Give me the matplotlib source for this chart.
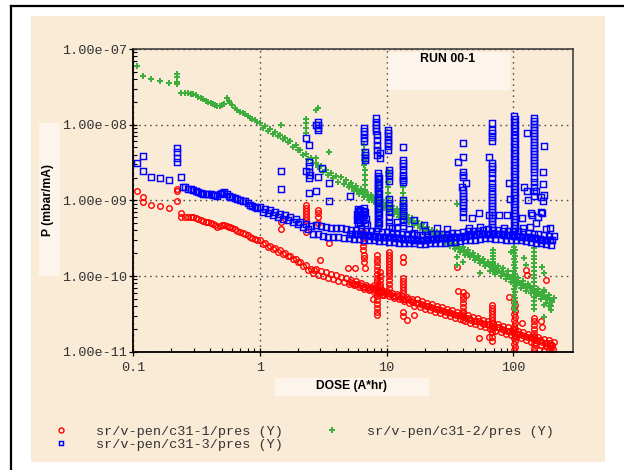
import numpy as np
import matplotlib
matplotlib.use("Agg")
import matplotlib.pyplot as plt
from matplotlib.patches import Rectangle
from matplotlib.lines import Line2D
from matplotlib.ticker import LogLocator, FuncFormatter, NullFormatter

BEIGE = '#FAEBD7'
PALE = '#FDF5EC'
RED = '#FF0000'
BLUE = '#0000FF'
GREEN = '#3DAE3D'
MONO = 'Liberation Mono'
SANS = 'Liberation Sans'

# dose in A*hr, pressures as log10(P / (mbar/mA))
dose_start = [0.106, 0.12, 0.139, 0.163, 0.192, 0.222, 0.239, 0.255, 0.271, 0.285,
              0.297, 0.31, 0.325, 0.34, 0.356, 0.373, 0.39, 0.408, 0.427, 0.443,
              0.459, 0.48, 0.502, 0.525, 0.55, 0.565, 0.58, 0.607, 0.636, 0.665,
              0.697, 0.73, 0.762, 0.8, 0.834, 0.87, 0.914, 0.955]
red_start = [-8.87, -8.95, -9.06, -9.07, -9.10, -8.85, -9.17, -9.22, -9.22, -9.22,
             -9.22, -9.23, -9.24, -9.26, -9.27, -9.28, -9.28, -9.30, -9.31, -9.32,
             -9.35, -9.34, -9.32, -9.32, -9.34, -9.35, -9.35, -9.36, -9.38, -9.40,
             -9.42, -9.43, -9.44, -9.46, -9.48, -9.50, -9.51, -9.53]
blue_start = [-8.50, -8.41, -8.69, -8.70, -8.73, -8.31, -8.69, -8.83, -8.85, -8.85,
              -8.86, -8.87, -8.89, -8.90, -8.91, -8.91, -8.91, -8.91, -8.93, -8.93,
              -8.94, -8.91, -8.90, -8.89, -8.91, -8.94, -8.95, -8.95, -8.97, -8.98,
              -8.99, -9.01, -9.01, -9.03, -9.06, -9.07, -9.09, -9.10]
green_start = [-7.22, -7.36, -7.40, -7.42, -7.45, -7.33, -7.58, -7.58, -7.58, -7.59,
               -7.59, -7.61, -7.63, -7.65, -7.66, -7.69, -7.70, -7.71, -7.73, -7.74,
               -7.75, -7.75, -7.74, -7.73, -7.65, -7.69, -7.71, -7.74, -7.78, -7.81,
               -7.83, -7.84, -7.86, -7.88, -7.91, -7.92, -7.94, -7.96]

dose = [1.0, 1.05, 1.1, 1.15, 1.2, 1.26, 1.32, 1.38, 1.45, 1.51,
        1.58, 1.66, 1.74, 1.82, 1.91, 2.0, 2.09, 2.19, 2.29, 2.4,
        2.51, 2.63, 2.75, 2.88, 3.02, 3.16, 3.31, 3.47, 3.63, 3.8,
        3.98, 4.17, 4.37, 4.57, 4.79, 5.01, 5.25, 5.5, 5.75, 6.03,
        6.31, 6.61, 6.92, 7.24, 7.59, 7.94, 8.32, 8.71, 9.12, 9.55,
        10.0, 10.5, 11.0, 11.5, 12.0, 12.6, 13.2, 13.8, 14.5, 15.1,
        15.8, 16.6, 17.4, 18.2, 19.1, 20.0, 20.9, 21.9, 22.9, 24.0,
        25.1, 26.3, 27.5, 28.8, 30.2, 31.6, 33.1, 34.7, 36.3, 38.0,
        39.8, 41.7, 43.7, 45.7, 47.9, 50.1, 52.5, 55.0, 57.5, 60.3,
        63.1, 66.1, 69.2, 72.4, 75.9, 79.4, 83.2, 87.1, 91.2, 95.5,
        100, 105, 110, 115, 120, 126, 132, 138, 145, 151,
        158, 166, 174, 182, 191, 200, 209]
red_log_p = [-9.53, -9.58, -9.56, -9.61, -9.60, -9.64, -9.63, -9.68, -9.66, -9.71,
             -9.69, -9.74, -9.73, -9.77, -9.77, -9.82, -9.81, -9.87, -9.86, -9.92,
             -9.91, -9.96, -9.91, -9.98, -9.93, -10.00, -9.95, -10.02, -9.97, -10.04,
             -9.99, -10.06, -10.01, -10.08, -10.03, -10.10, -10.05, -10.12, -10.07, -10.14,
             -10.09, -10.17, -10.12, -10.19, -10.14, -10.21, -10.16, -10.23, -10.18, -10.25,
             -10.20, -10.27, -10.22, -10.29, -10.24, -10.31, -10.26, -10.33, -10.28, -10.35,
             -10.30, -10.39, -10.31, -10.41, -10.33, -10.43, -10.35, -10.45, -10.37, -10.47,
             -10.39, -10.49, -10.41, -10.51, -10.43, -10.53, -10.45, -10.55, -10.47, -10.57,
             -10.49, -10.60, -10.52, -10.62, -10.54, -10.64, -10.56, -10.66, -10.58, -10.68,
             -10.60, -10.70, -10.62, -10.72, -10.64, -10.74, -10.66, -10.76, -10.68, -10.78,
             -10.70, -10.80, -10.72, -10.82, -10.74, -10.84, -10.76, -10.87, -10.79, -10.89,
             -10.81, -10.91, -10.83, -10.93, -10.85, -10.95, -10.87]
blue_log_p = [-9.09, -9.15, -9.11, -9.17, -9.13, -9.19, -9.15, -9.22, -9.18, -9.24,
              -9.20, -9.26, -9.22, -9.28, -9.25, -9.31, -9.28, -9.35, -9.31, -9.38,
              -9.34, -9.44, -9.32, -9.45, -9.34, -9.47, -9.35, -9.48, -9.36, -9.49,
              -9.37, -9.49, -9.37, -9.50, -9.38, -9.50, -9.39, -9.51, -9.39, -9.51,
              -9.40, -9.52, -9.40, -9.53, -9.41, -9.53, -9.41, -9.54, -9.42, -9.54,
              -9.42, -9.55, -9.43, -9.55, -9.44, -9.56, -9.44, -9.56, -9.45, -9.57,
              -9.45, -9.57, -9.46, -9.58, -9.46, -9.58, -9.46, -9.57, -9.45, -9.57,
              -9.45, -9.56, -9.44, -9.56, -9.44, -9.55, -9.43, -9.55, -9.43, -9.54,
              -9.42, -9.53, -9.41, -9.53, -9.40, -9.52, -9.40, -9.51, -9.39, -9.50,
              -9.38, -9.50, -9.39, -9.51, -9.39, -9.51, -9.40, -9.52, -9.40, -9.52,
              -9.41, -9.53, -9.41, -9.53, -9.42, -9.54, -9.43, -9.55, -9.44, -9.56,
              -9.45, -9.57, -9.46, -9.58, -9.47, -9.59, -9.47]
green_log_p = [-7.98, -8.04, -8.02, -8.08, -8.06, -8.12, -8.10, -8.15, -8.13, -8.19,
               -8.17, -8.23, -8.22, -8.29, -8.27, -8.34, -8.33, -8.40, -8.39, -8.45,
               -8.44, -8.51, -8.50, -8.56, -8.55, -8.62, -8.60, -8.66, -8.64, -8.70,
               -8.68, -8.76, -8.69, -8.79, -8.73, -8.83, -8.77, -8.87, -8.81, -8.91,
               -8.85, -8.95, -8.89, -8.99, -8.93, -9.02, -8.96, -9.06, -9.00, -9.10,
               -9.04, -9.14, -9.08, -9.18, -9.12, -9.22, -9.16, -9.25, -9.19, -9.29,
               -9.23, -9.33, -9.27, -9.37, -9.31, -9.41, -9.35, -9.45, -9.39, -9.49,
               -9.42, -9.52, -9.46, -9.56, -9.50, -9.60, -9.54, -9.64, -9.58, -9.68,
               -9.62, -9.72, -9.65, -9.75, -9.69, -9.79, -9.73, -9.83, -9.77, -9.87,
               -9.81, -9.93, -9.83, -9.97, -9.87, -10.00, -9.90, -10.04, -9.94, -10.08,
               -9.98, -10.12, -10.02, -10.16, -10.06, -10.20, -10.10, -10.23, -10.13, -10.27,
               -10.17, -10.31, -10.21, -10.35, -10.25, -10.39, -10.29]

# readings taken between the ones above, from 5 A*hr on
dose_mid = [5.13, 5.37, 5.62, 5.89, 6.17, 6.46, 6.76, 7.08, 7.41, 7.76,
            8.13, 8.51, 8.91, 9.33, 9.77, 10.2, 10.7, 11.2, 11.7, 12.3,
            12.9, 13.5, 14.1, 14.8, 15.5, 16.2, 17.0, 17.8, 18.6, 19.5,
            20.4, 21.4, 22.4, 23.4, 24.5, 25.7, 26.9, 28.2, 29.5, 30.9,
            32.4, 33.9, 35.5, 37.2, 38.9, 40.7, 42.7, 44.7, 46.8, 49.0,
            51.3, 53.7, 56.2, 58.9, 61.7, 64.6, 67.6, 70.8, 74.1, 77.6,
            81.3, 85.1, 89.1, 93.3, 97.7, 102, 107, 112, 117, 123,
            129, 135, 141, 148, 155, 162, 170, 178, 186, 195, 204]
red_mid = [-10.08, -10.09, -10.11, -10.11, -10.12, -10.14, -10.14, -10.15, -10.17, -10.17,
           -10.18, -10.20, -10.20, -10.21, -10.23, -10.23, -10.24, -10.26, -10.26, -10.27,
           -10.29, -10.30, -10.31, -10.31, -10.33, -10.34, -10.35, -10.35, -10.37, -10.38,
           -10.39, -10.39, -10.41, -10.42, -10.43, -10.43, -10.45, -10.46, -10.47, -10.47,
           -10.49, -10.50, -10.51, -10.51, -10.53, -10.54, -10.55, -10.56, -10.58, -10.59,
           -10.60, -10.60, -10.62, -10.63, -10.64, -10.64, -10.66, -10.67, -10.68, -10.68,
           -10.70, -10.71, -10.72, -10.72, -10.74, -10.75, -10.76, -10.76, -10.78, -10.79,
           -10.80, -10.80, -10.82, -10.84, -10.85, -10.85, -10.87, -10.88, -10.89, -10.89,
           -10.91]
blue_mid = [-9.44, -9.44, -9.45, -9.45, -9.45, -9.46, -9.46, -9.46, -9.47, -9.47,
            -9.47, -9.48, -9.48, -9.48, -9.48, -9.49, -9.49, -9.49, -9.50, -9.50,
            -9.50, -9.51, -9.51, -9.51, -9.51, -9.52, -9.52, -9.52, -9.52, -9.52,
            -9.52, -9.51, -9.51, -9.51, -9.51, -9.50, -9.50, -9.50, -9.50, -9.49,
            -9.49, -9.49, -9.49, -9.48, -9.48, -9.47, -9.47, -9.46, -9.46, -9.46,
            -9.45, -9.45, -9.45, -9.44, -9.44, -9.44, -9.44, -9.45, -9.45, -9.45,
            -9.45, -9.46, -9.46, -9.46, -9.46, -9.47, -9.47, -9.47, -9.48, -9.48,
            -9.49, -9.49, -9.50, -9.50, -9.51, -9.51, -9.52, -9.52, -9.53, -9.53,
            -9.53]
green_mid = [-8.80, -8.82, -8.84, -8.86, -8.88, -8.90, -8.92, -8.94, -8.96, -8.97,
             -8.99, -9.01, -9.03, -9.05, -9.07, -9.09, -9.11, -9.13, -9.15, -9.17,
             -9.19, -9.20, -9.22, -9.24, -9.26, -9.28, -9.30, -9.32, -9.34, -9.36,
             -9.38, -9.40, -9.42, -9.44, -9.45, -9.47, -9.49, -9.51, -9.53, -9.55,
             -9.57, -9.59, -9.61, -9.63, -9.65, -9.67, -9.68, -9.70, -9.72, -9.74,
             -9.76, -9.78, -9.80, -9.82, -9.84, -9.86, -9.88, -9.90, -9.92, -9.93,
             -9.95, -9.97, -9.99, -10.01, -10.03, -10.05, -10.07, -10.09, -10.11, -10.13,
             -10.15, -10.16, -10.18, -10.20, -10.22, -10.24, -10.26, -10.28, -10.30, -10.32,
             -10.34]

# pressure bursts: (dose, [log10 P readings])
red_spikes = [
    (0.12, [-9.02]), (0.222, [-8.87, -9.01]), (0.239, [-9.22]),
    (1.46, [-9.28, -9.38]),
    (2.33, [-9.06, -9.10, -9.14, -9.18, -9.22, -9.26, -9.42]),
    (2.66, [-9.92]), (2.9, [-9.13, -9.17, -9.22, -9.30]), (2.97, [-9.79]),
    (3.5, [-9.56]), (5.0, [-9.89]), (5.6, [-9.90]),
    (6.5, [-9.42, -9.46, -9.50, -9.55, -9.60, -9.65]), (6.6, [-9.72, -9.76, -9.81]), (6.7, [-9.89]),
    (7.8, [-10.30]), (8.0, [-10.12]),
    (8.4, [-9.72, -9.77, -9.82, -9.87, -9.92, -9.97, -10.02, -10.07, -10.12, -10.17,
           -10.22, -10.27, -10.32, -10.37, -10.42, -10.47, -10.52]),
    (8.8, [-9.95, -10.00, -10.05, -10.10, -10.15, -10.20]), (9.2, [-10.25]),
    (10.4, [-9.68, -9.72, -9.76, -9.80, -9.84, -9.88, -9.92, -9.96, -10.00, -10.05, -10.10, -10.16]),
    (13.6, [-9.75, -9.81, -10.02, -10.06, -10.10, -10.14, -10.18, -10.22, -10.48, -10.53]),
    (14.4, [-10.58]), (16.6, [-10.51]),
    (36.2, [-9.88]), (36.9, [-10.20]),
    (40.4, [-10.21, -10.26, -10.31, -10.36, -10.41, -10.46, -10.52, -10.58]), (42.5, [-10.25]),
    (54, [-10.82]), (64.7, [-10.80]),
    (68.4, [-10.38, -10.42, -10.46, -10.50, -10.54, -10.58, -10.62, -10.66, -10.70, -10.74, -10.80, -10.86]),
    (93, [-10.28]),
    (101, [-10.34, -10.42, -10.50, -10.58, -10.66, -10.74, -10.82, -10.90, -10.98]),
    (104, [-10.38, -10.46, -10.54, -10.62, -10.70, -10.78, -10.86, -10.94]),
    (118, [-10.62]), (126, [-9.92]), (129, [-9.98]),
    (146, [-10.55, -10.60, -10.65, -10.70, -10.75, -10.80, -10.85, -10.90, -10.95, -10.99]),
    (160, [-10.98]), (166, [-10.60]), (169, [-10.67]), (175, [-10.99]), (182, [-10.05]),
    (185, [-10.93]), (190, [-10.97]), (200, [-10.92]), (205, [-10.96]),
]
green_spikes = [
    (0.222, [-7.37, -7.44, -7.46]),
    (1.46, [-8.00]),
    (2.3, [-7.92, -7.98, -8.04, -8.11]),
    (2.76, [-7.81, -8.44]), (2.86, [-7.78]), (3.5, [-8.36]),
    (6.6, [-8.27, -8.33, -8.40, -8.47, -8.53]), (6.7, [-8.60, -8.66, -8.73, -8.80, -8.86, -8.93]),
    (8.6, [-8.73, -8.80, -8.86, -8.93, -8.99, -9.06, -9.13, -9.19, -9.26, -9.32]),
    (10.3, [-8.62, -8.68, -8.76, -8.83, -8.90, -8.97, -9.04]),
    (13.4, [-8.83, -8.90, -8.97, -9.04, -9.11, -9.17]),
    (36.2, [-9.05, -9.75, -9.85]), (40.4, [-9.81]), (55, [-9.96]),
    (69.7, [-9.65, -9.69, -9.73, -9.77, -9.81, -9.85, -9.89, -9.93]),
    (96, [-9.68]),
    (102, [-9.61, -9.69, -9.77, -9.85, -9.93, -10.01, -10.09, -10.17, -10.25, -10.33, -10.41]),
    (104, [-9.65, -9.73, -9.81, -9.89, -9.97, -10.05, -10.13, -10.21, -10.29, -10.37, -10.45]),
    (122, [-9.76]), (126, [-9.85]), (169, [-9.88]),
    (146, [-9.63, -9.68, -9.73, -9.78, -9.83, -9.88, -9.93, -9.98, -10.03, -10.08,
           -10.13, -10.18, -10.23, -10.28, -10.33, -10.38, -10.43]),
    (175, [-9.96, -10.18, -10.38, -10.54]), (190, [-10.40]), (200, [-10.45]),
]
blue_spikes = [
    (0.12, [-8.61]), (0.222, [-8.36, -8.44, -8.49]), (0.245, [-8.83]),
    (1.46, [-8.61, -8.85]),
    (2.30, [-8.17]), (2.33, [-8.61]), (2.43, [-8.27, -8.49, -8.55, -8.62, -8.70, -8.90]), (2.48, [-8.66]),
    (2.76, [-8.00, -8.88]), (2.86, [-7.96, -8.00, -8.04, -8.07, -8.69]), (3.08, [-8.57]),
    (3.49, [-8.77, -9.01]), (5.1, [-8.94]),
    (5.8, [-9.18, -9.26]), (5.9, [-9.14, -9.22, -9.30]), (6.0, [-9.12, -9.20]), (6.1, [-9.16, -9.24]),
    (6.2, [-9.13, -9.28]), (6.3, [-9.18]), (6.4, [-9.22]), (6.5, [-9.14, -9.26]),
    (6.6, [-8.04, -8.08, -8.12, -8.17, -8.21, -9.10, -9.20]), (6.7, [-8.36, -8.40, -8.44, -8.47, -9.30]),
    (6.8, [-9.16]), (6.9, [-9.24]), (7.0, [-9.32]),
    (8.3, [-7.91, -7.96, -8.00, -8.04, -8.08]), (8.4, [-8.14, -8.20, -8.27, -8.33, -8.40]), (8.8, [-8.37, -8.44]),
    (8.5, [-8.64, -8.68, -8.72, -8.76, -8.80, -8.84, -8.88, -8.92, -8.96, -9.00,
           -9.04, -9.08, -9.12, -9.16, -9.20, -9.24, -9.28, -9.32, -9.36]),
    (8.7, [-8.70, -8.80, -8.90, -9.00, -9.10, -9.20, -9.30]),
    (10.3, [-8.07, -8.11, -8.15, -8.20, -8.24, -8.28, -8.33]),
    (10.4, [-8.60, -8.64, -8.68, -8.74, -8.98, -9.04, -9.10, -9.16, -9.22, -9.28, -9.34]),
    (11, [-9.37]), (12, [-9.28, -9.35]),
    (13.4, [-8.29, -8.47, -8.51, -8.55, -8.60, -8.66, -8.70, -8.73, -8.76, -8.99,
            -9.04, -9.09, -9.14, -9.19, -9.24, -9.29]),
    (13.6, [-9.09, -9.34]), (15, [-9.38]), (16.6, [-9.26, -9.43]), (19.9, [-9.32]), (20, [-9.40]),
    (25, [-9.36]), (30, [-9.38]),
    (36.9, [-8.49]), (39.5, [-8.82]),
    (40.4, [-8.24, -8.43, -8.62, -8.66, -8.69, -8.86, -8.90, -8.94, -8.98, -9.02, -9.06, -9.10, -9.16, -9.22]),
    (42.5, [-8.77]), (45, [-9.37]), (47.5, [-9.23]), (54, [-9.17]), (55, [-9.35]), (64.7, [-8.43, -9.19]),
    (68.4, [-7.98, -8.07, -8.11, -8.16, -8.21, -8.50, -8.54, -8.59, -8.64, -8.70, -8.77, -8.83, -8.87,
            -8.91, -8.95, -8.99, -9.03, -9.07, -9.11, -9.15, -9.19, -9.23, -9.27, -9.31, -9.35]),
    (77.6, [-9.19]), (85, [-9.36]), (89.7, [-9.19]), (93, [-8.77]), (94.6, [-8.98]),
    (101, [-7.89, -7.97, -8.05, -8.13, -8.21, -8.29, -8.37, -8.45, -8.53, -8.61,
           -8.69, -8.77, -8.85, -8.93, -9.01, -9.09, -9.17, -9.25, -9.33, -9.41]),
    (104, [-7.93, -8.01, -8.09, -8.17, -8.25, -8.33, -8.41, -8.49, -8.57, -8.65,
           -8.73, -8.81, -8.89, -8.97, -9.05, -9.13, -9.21, -9.29, -9.37]),
    (118, [-9.23]), (120, [-9.37]), (122, [-8.83]), (129, [-8.11, -8.87]), (131, [-8.99]),
    (135, [-9.35]), (139, [-9.17]), (141, [-9.19]),
    (146, [-7.91, -7.95, -7.99, -8.03, -8.07, -8.11, -8.15, -8.19, -8.23, -8.27, -8.31, -8.35,
           -8.39, -8.43, -8.47, -8.51, -8.55, -8.59, -8.63, -8.70, -8.76, -8.82, -8.88, -8.94]),
    (152, [-8.87, -9.30]), (157, [-9.22]), (166, [-8.95, -9.15]), (169, [-9.17]),
    (172, [-8.62, -8.78, -9.01]), (175, [-8.28, -8.93]),
    (180, [-9.38]), (195, [-9.36]),
]

labels = ['sr/v-pen/c31-1/pres (Y)', 'sr/v-pen/c31-2/pres (Y)', 'sr/v-pen/c31-3/pres (Y)']


def build(start, trend, mid, spikes):
    sd = [d for d, vals in spikes for _ in vals]
    sp = [v for d, vals in spikes for v in vals]
    assert len(start) == len(dose_start) and len(trend) == len(dose) and len(mid) == len(dose_mid)
    x = np.array(dose_start + dose + dose_mid + sd)
    y = 10.0 ** np.array(start + trend + mid + sp)
    return x, y


W, H = 624, 470


def fx(px):
    return px / W


def fy(py):
    return 1 - py / H


fig = plt.figure(figsize=(W / 100, H / 100), dpi=100)
fig.patch.set_facecolor('white')

# beige panel and black frame
fig.add_artist(Rectangle((fx(30.5), fy(461.7)), fx(604.7) - fx(30.5), (461.7 - 16) / H,
                         transform=fig.transFigure, facecolor=BEIGE, edgecolor='none', zorder=-2))
fig.add_artist(Line2D([fx(11), fx(11)], [0, fy(6)], transform=fig.transFigure,
                      color='black', lw=1.6, zorder=-1))
fig.add_artist(Line2D([fx(11), 1], [fy(6), fy(6)], transform=fig.transFigure,
                      color='black', lw=1.6, zorder=-1))

ax = fig.add_axes([fx(133.3), fy(351.7), (572.7 - 133.3) / W, (351.7 - 49) / H])
ax.set_facecolor(BEIGE)

xr, yr = build(red_start, red_log_p, red_mid, red_spikes)
xg, yg = build(green_start, green_log_p, green_mid, green_spikes)
xb, yb = build(blue_start, blue_log_p, blue_mid, blue_spikes)

h_red, = ax.plot(xr, yr, ls='none', marker='o', ms=4.0, mfc='none', mec=RED, mew=1.0)
h_green, = ax.plot(xg, yg, ls='none', marker='P', ms=4.3, mfc=GREEN, mec=GREEN, mew=0)
h_blue, = ax.plot(xb, yb, ls='none', marker='s', ms=3.9, mfc='none', mec=BLUE, mew=1.05)

ax.set_xscale('log')
ax.set_yscale('log')
ax.set_xlim(0.1, 295)
ax.set_ylim(1e-11, 1e-7)

ax.xaxis.set_major_locator(LogLocator(base=10))
ax.xaxis.set_minor_locator(LogLocator(base=10, subs=np.arange(2, 10)))
ax.yaxis.set_major_locator(LogLocator(base=10))
ax.yaxis.set_minor_locator(LogLocator(base=10, subs=np.arange(2, 10)))
ax.xaxis.set_major_formatter(FuncFormatter(lambda v, p: f"{v:g}"))
ax.yaxis.set_major_formatter(FuncFormatter(lambda v, p: f"{v:.2e}"))
ax.xaxis.set_minor_formatter(NullFormatter())
ax.yaxis.set_minor_formatter(NullFormatter())

ax.tick_params(which='major', direction='inout', length=5.5, width=0.9, color='black')
ax.tick_params(which='minor', direction='in', length=3, width=0.8, color='black')
ax.tick_params(axis='y', which='major', pad=1.5)
ax.tick_params(axis='x', which='major', pad=4.5)
for lab in ax.get_xticklabels() + ax.get_yticklabels():
    lab.set_fontfamily(MONO)
    lab.set_fontsize(9.7)
    lab.set_color('#333333')

ax.grid(True, which='major', color='#444444', lw=1.0, linestyle=(0, (1.1, 2.9)))
for side in ['left', 'bottom']:
    ax.spines[side].set_color('black')
    ax.spines[side].set_linewidth(1.3)
for side in ['top', 'right']:
    ax.spines[side].set_color('#333333')
    ax.spines[side].set_linewidth(1.1)

# labels in pale boxes
fig.add_artist(Rectangle((fx(39), fy(275.7)), fx(60) - fx(39), (275.7 - 123) / H,
                         transform=fig.transFigure, facecolor=PALE, edgecolor='none', zorder=1))
fig.text(fx(48.5), fy(200), 'P (mbar/mA)', rotation=90, ha='center', va='center',
         fontfamily=SANS, fontweight='bold', fontsize=8.7, color='black')
fig.add_artist(Rectangle((fx(275), fy(395.7)), fx(429.3) - fx(275), (395.7 - 377.7) / H,
                         transform=fig.transFigure, facecolor=PALE, edgecolor='none', zorder=1))
fig.text(fx(352), fy(386.5), 'DOSE (A*hr)', ha='center', va='center',
         fontfamily=SANS, fontweight='bold', fontsize=8.7, color='black')
fig.add_artist(Rectangle((fx(388), fy(89.7)), fx(510.3) - fx(388), (89.7 - 52) / H,
                         transform=fig.transFigure, facecolor=PALE, edgecolor='none', zorder=1))
fig.text(fx(448), fy(59.5), 'RUN 00-1', ha='center', va='center',
         fontfamily=SANS, fontweight='bold', fontsize=8.9, color='black')

fig.legend([h_red, h_blue, h_green], [labels[0], labels[2], labels[1]], ncol=2,
           loc='upper left', bbox_to_anchor=(fx(47.5), fy(425.5)), frameon=False,
           prop={'family': MONO, 'size': 9.7}, handlelength=2.0, handletextpad=1.6,
           columnspacing=2.64, labelspacing=0.06, borderpad=0, borderaxespad=0,
           labelcolor='#333333', markerscale=0.9)

fig.savefig('out.png', dpi=100, facecolor='white')
